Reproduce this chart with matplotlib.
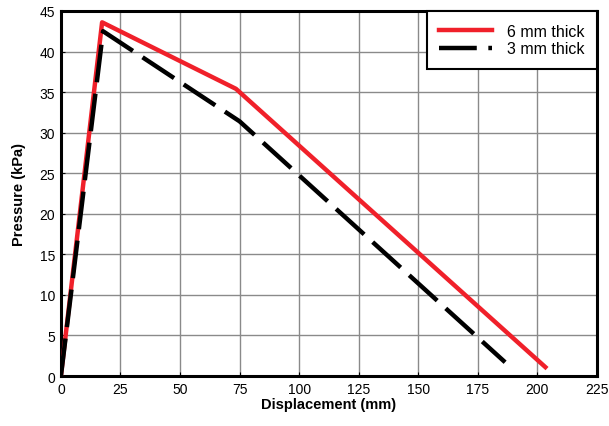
import matplotlib
matplotlib.use("Agg")
import matplotlib.pyplot as plt

plt.rcParams['font.family'] = ['Liberation Sans', 'DejaVu Sans']

# Pressure vs displacement for two panel thicknesses
disp_6mm = [0, 17.3, 73.5, 203.4]
pres_6mm = [0, 43.6, 35.4, 1.1]
disp_3mm = [0, 17.7, 75.0, 186.5]
pres_3mm = [0, 42.5, 31.4, 1.7]
labels = ["6 mm thick", "3 mm thick"]
xticks = [0, 25, 50, 75, 100, 125, 150, 175, 200, 225]
yticks = [0, 5, 10, 15, 20, 25, 30, 35, 40, 45]

fig = plt.figure(figsize=(6.09, 4.27), dpi=100)
ax = fig.add_axes([0.100, 0.117, 0.880, 0.855])

ax.plot(disp_6mm, pres_6mm, color='#f0202a', lw=3.2, label=labels[0],
        solid_joinstyle='round', zorder=3)
ax.plot(disp_3mm, pres_3mm, color='black', lw=3.2, label=labels[1],
        dashes=(8.5, 2.6), zorder=4)

ax.set_xlim(0, 225)
ax.set_ylim(0, 45)
ax.set_xticks(xticks)
ax.set_yticks(yticks)
ax.grid(True, color='#8a8a8a', lw=1.0)
ax.set_axisbelow(True)
for s in ax.spines.values():
    s.set_linewidth(2.2)
ax.tick_params(direction='in', length=3, width=0.8, labelsize=10, pad=4)

ax.set_xlabel("Displacement (mm)", fontsize=10.5, fontweight='bold', labelpad=1)
ax.set_ylabel("Pressure (kPa)", fontsize=10.5, fontweight='bold', labelpad=10)

leg = ax.legend(loc='upper right', fontsize=11.5, fancybox=False, framealpha=1,
                edgecolor='black', borderaxespad=0, handlelength=3.3,
                handletextpad=0.9, borderpad=0.8, labelspacing=0.15)
leg.get_frame().set_linewidth(1.5)

fig.savefig("out.png", dpi=100)
